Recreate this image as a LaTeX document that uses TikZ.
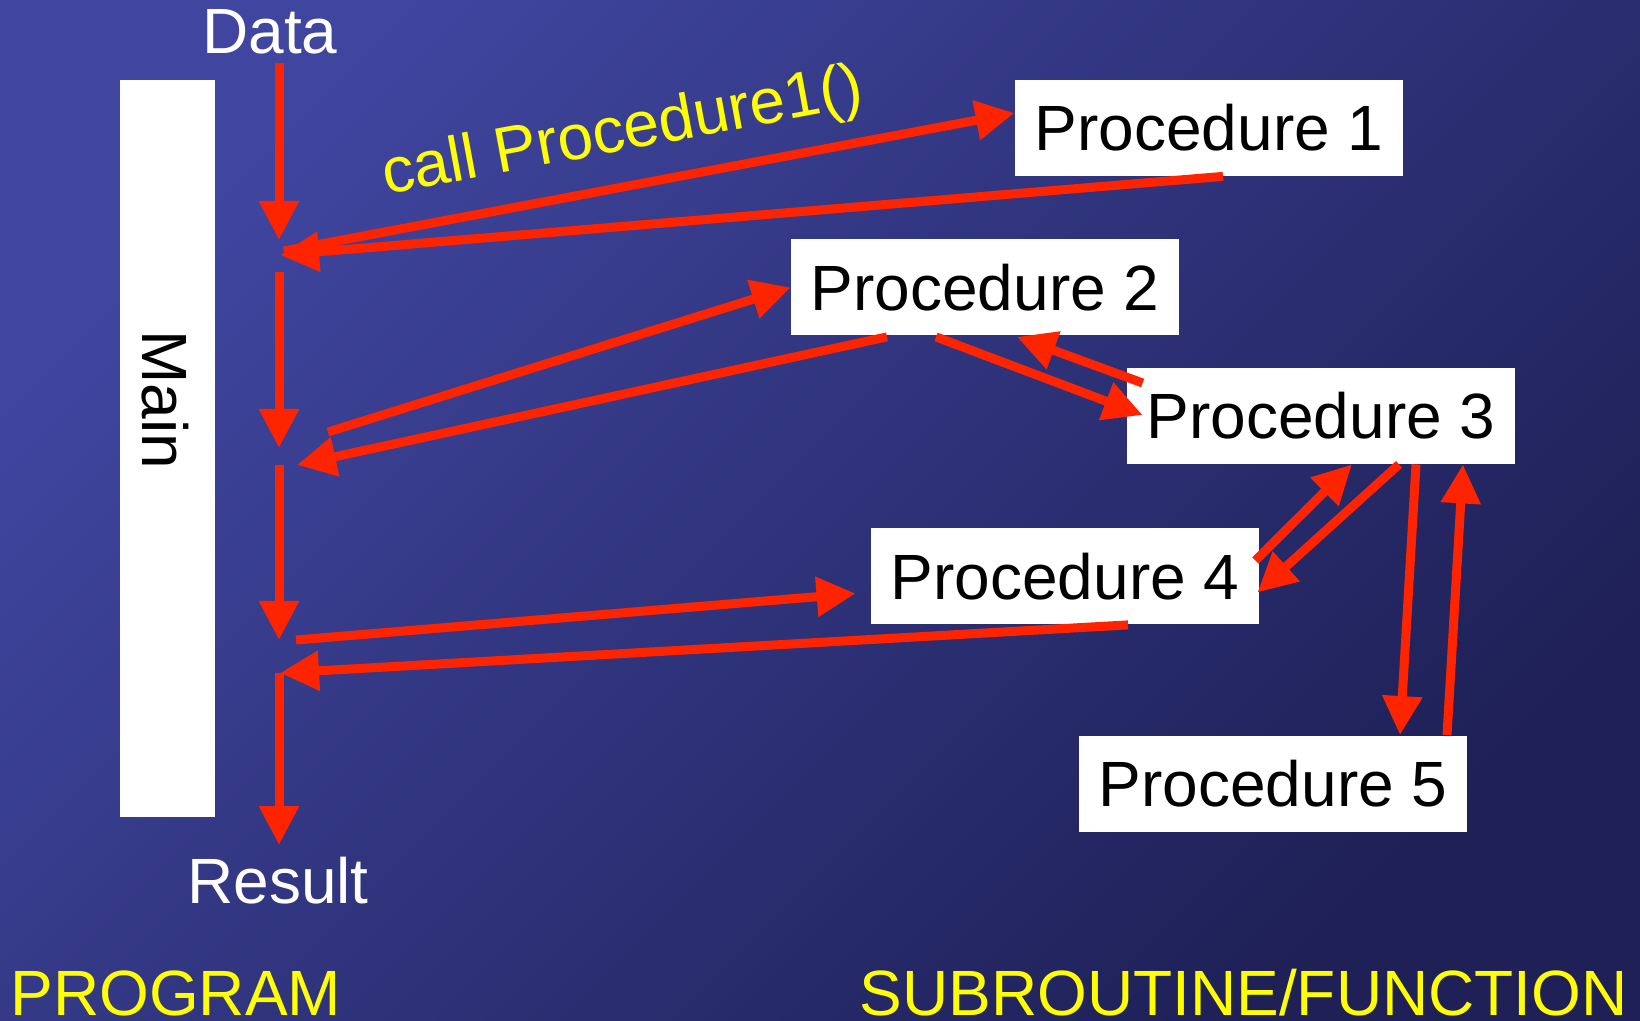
\documentclass[tikz,border=0pt]{standalone}
\usepackage{fontspec}
\setmainfont{Liberation Sans}
\usetikzlibrary{arrows.meta,calc}
\definecolor{arr}{RGB}{255,36,0}
\definecolor{bgA}{RGB}{64,70,160}
\definecolor{bgB}{RGB}{30,32,86}
\definecolor{ylw}{RGB}{255,255,0}
\begin{document}
\begin{tikzpicture}[x=0.5pt,y=-0.5pt,
  flow/.style={draw=arr, line width=4.5pt, -{Triangle[length=19.5pt,width=19pt]}},
  proc/.style={fill=white, inner sep=0pt, minimum width=194pt, minimum height=48pt,
    font=\fontsize{32}{38}\selectfont, text=black},
  lbl/.style={inner sep=0pt, font=\fontsize{32}{38}\selectfont}]
\useasboundingbox (0,0) rectangle (1640,1021);
\shade[top color=bgA, bottom color=bgB, shading angle=45] (0,0) rectangle (1640,1021);

% main bar
\node[fill=white, inner sep=0pt, minimum width=47.5pt, minimum height=368.5pt] (mainbar) at (167.5,448.5) {};
\node[lbl, text=black, rotate=-90] (maintxt) at (165,400) {Main};

% labels
\node[lbl, text=white, anchor=base] (data) at (270,54) {Data};
\node[lbl, text=white, anchor=base] (result) at (278,903) {Result};
\node[lbl, text=ylw, anchor=base west] (prog) at (10,1015) {PROGRAM};
\node[lbl, text=ylw, anchor=base east] (sub) at (1628,1015) {SUBROUTINE/FUNCTION};
\node[lbl, text=ylw, rotate=10.5, anchor=base] (call) at (626,150) {call Procedure1()};

% procedures
\node[proc] (P1) at (1209,128) {Procedure 1};
\node[proc] (P2) at (985,287.5) {Procedure 2};
\node[proc] (P3) at (1321,416) {Procedure 3};
\node[proc] (P4) at (1065,576.5) {Procedure 4};
\node[proc] (P5) at (1273,783.5) {Procedure 5};

% points on the main flow line
\coordinate (d0) at (279,63);
\coordinate (d1) at (279,240);
\coordinate (a1) at (284,251);
\coordinate (m1) at (280,255);
\coordinate (s2) at (279,272);
\coordinate (d2) at (279,448);
\coordinate (a2) at (328,432);
\coordinate (r2) at (297,465);
\coordinate (s3) at (279,465);
\coordinate (d3) at (279,640);
\coordinate (a4) at (296,640);
\coordinate (r4) at (280,673);
\coordinate (s4) at (279,673);
\coordinate (d4) at (279,845);

% main flow
\draw[flow] (d0) -- (d1);
\draw[flow] (s2) -- (d2);
\draw[flow] (s3) -- (d3);
\draw[flow] (s4) -- (d4);

% calls and returns
\draw[flow] (a1) -- ($(P1.west)+(0,-15)$);
\draw[flow] ($(P1.south)+(14,0)$) -- (m1);
\draw[flow] (a2) -- (P2.west);
\draw[flow] ($(P2.south)+(-98,1)$) -- (r2);
\draw[flow] ($(P2.south)+(-49,1)$) -- ($(P3.west)+(16,-1)$);
\draw[flow] ($(P3.west)+(16,-33)$) -- ($(P2.south)+(32,1)$);
\draw[flow] ($(P4.east)+(-4,-16)$) -- ($(P3.south)+(31,0)$);
\draw[flow] ($(P3.south)+(78,0)$) -- ($(P4.east)+(-2,16)$);
\draw[flow] ($(P3.south)+(95,0)$) -- ($(P5.north)+(127,0)$);
\draw[flow] ($(P5.north)+(174,0)$) -- ($(P3.south)+(142,0)$);
\draw[flow] (a4) -- ($(P4.west)+(-15,17)$);
\draw[flow] ($(P4.south)+(63,0)$) -- (r4);
\end{tikzpicture}
\end{document}
